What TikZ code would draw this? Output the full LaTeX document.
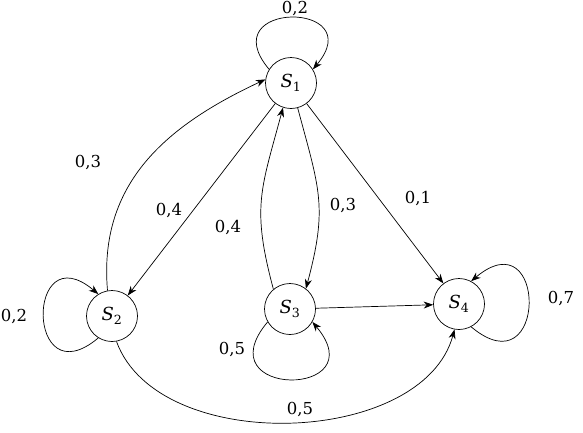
\documentclass[tikz,border=0pt]{standalone}
\usepackage{fontspec}
\setmainfont{DejaVu Serif}
\usetikzlibrary{arrows.meta}
\begin{document}
\begin{tikzpicture}[x=1pt,y=1pt,
  state/.style={circle,draw,line width=0.7pt,minimum size=51pt,inner sep=0pt,font=\fontsize{18}{21}\selectfont},
  edge/.style={line width=0.7pt,-{Stealth[length=9.5pt,width=7pt]}},
  lbl/.style={font=\fontsize{16.5}{19}\selectfont,inner sep=0pt}]
\useasboundingbox (0,0) rectangle (583,-432);
\node[state] (s1) at (291,-83) {\textit{S}\textsubscript{1}};
\node[state] (s2) at (112,-316) {\textit{S}\textsubscript{2}};
\node[state] (s3) at (290,-309) {\textit{S}\textsubscript{3}};
\node[state] (s4) at (459,-304) {\textit{S}\textsubscript{4}};
% loops
\draw[edge] (s1.148) .. controls +(130:90) and +(50:90) .. (s1.32);
\draw[edge] (s2.238) .. controls +(220:95) and +(140:95) .. (s2.122);
\draw[edge] (s3.210) .. controls +(230:100) and +(310:100) .. (s3.330);
\draw[edge] (s4.298) .. controls +(320:100) and +(40:100) .. (s4.62);
% edges
\draw[edge] (s2.100) to[out=95,in=205,looseness=1.05] (s1.172);
\draw[edge] (s1) -- (s2);
\draw[edge] (s3.130) to[out=105,in=-105,looseness=1.2] (s1.252);
\draw[edge] (s1.285) to[out=-75,in=75,looseness=1.2] (s3.52);
\draw[edge] (s1) -- (s4);
\draw[edge] (s3) -- (s4);
\draw[edge] (s2.280) to[out=-70,in=-105,looseness=0.92] (s4.260);
% labels
\node[lbl] (l12) at (295,-8) {0,2};
\node[lbl] (l22) at (14,-316) {0,2};
\node[lbl] (l33) at (232,-349) {0,5};
\node[lbl] (l44) at (561,-298) {0,7};
\node[lbl] (l21) at (88,-162) {0,3};
\node[lbl] (l12b) at (169,-210) {0,4};
\node[lbl] (l31) at (228,-227) {0,4};
\node[lbl] (l13) at (343,-205) {0,3};
\node[lbl] (l14) at (418,-198) {0,1};
\node[lbl] (l24) at (300,-409) {0,5};
\end{tikzpicture}
\end{document}
